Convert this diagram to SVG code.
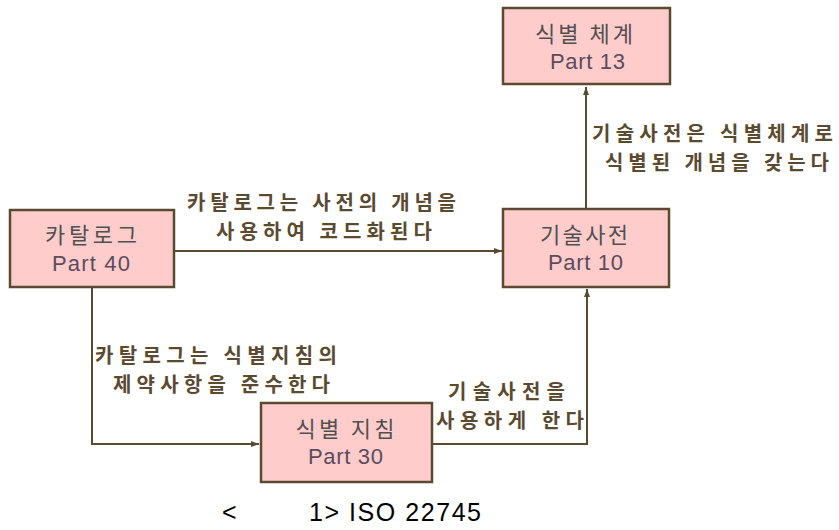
<svg xmlns="http://www.w3.org/2000/svg" width="839" height="530" viewBox="0 0 839 530">
<style>
.box{fill:#ffcccc;stroke:#5a4a30;stroke-width:2.5}
.t{font-family:"Noto Sans CJK KR","Liberation Sans",sans-serif;font-size:22px;fill:#505050;text-anchor:middle}
.p{font-family:"Liberation Sans",Arial,sans-serif;font-size:22px;fill:#5a4c5c;text-anchor:middle}
.lbl{font-family:"Noto Sans CJK KR","Liberation Sans",sans-serif;font-size:20px;font-weight:bold;fill:#5a4a30}
.edge{fill:none;stroke:#5a4a30;stroke-width:2}
.cap{font-family:"Liberation Sans",Arial,sans-serif;font-size:25px;fill:#000}
</style>
<defs>
<marker id="arr" markerUnits="userSpaceOnUse" markerWidth="10" markerHeight="8" refX="8" refY="4" orient="auto">
<path d="M0,1 L8,4 L0,7 z" fill="#5a4a30"/>
</marker>
</defs>
<g id="connectors">
<path class="edge" d="M174,251 H502" marker-end="url(#arr)"/>
<path class="edge" d="M586,209 V87" marker-end="url(#arr)"/>
<path class="edge" d="M92,287 V444 H259" marker-end="url(#arr)"/>
<path class="edge" d="M432,444 H587 V289" marker-end="url(#arr)"/>
<text class="lbl" x="187" y="210" textLength="269">카탈로그는 사전의 개념을</text>
<text class="lbl" x="216" y="239" textLength="216">사용하여 코드화된다</text>
<text class="lbl" x="592" y="140.5" textLength="241">기술사전은 식별체계로</text>
<text class="lbl" x="605" y="169.5" textLength="224">식별된 개념을 갖는다</text>
<text class="lbl" x="95" y="363" textLength="242">카탈로그는 식별지침의</text>
<text class="lbl" x="113" y="392" textLength="217">제약사항을 준수한다</text>
<text class="lbl" x="448" y="398.5" textLength="117">기술사전을</text>
<text class="lbl" x="436" y="427.5" textLength="148">사용하게 한다</text>
</g>
<g id="n-scheme">
<rect class="box" x="503" y="8" width="167" height="76"/>
<text class="t" x="584" y="42" textLength="98">식별 체계</text>
<text class="p" x="587.5" y="69" textLength="75">Part 13</text>
</g>
<g id="n-catalog">
<rect class="box" x="10" y="210" width="164" height="77"/>
<text class="t" x="91" y="243" textLength="92">카탈로그</text>
<text class="p" x="52" y="271" textLength="78" style="text-anchor:start">Part 40</text>
</g>
<g id="n-dict">
<rect class="box" x="503" y="209" width="166" height="78"/>
<text class="t" x="584" y="243" textLength="88">기술사전</text>
<text class="p" x="585.5" y="270" textLength="75">Part 10</text>
</g>
<g id="n-guide">
<rect class="box" x="261" y="403" width="171" height="79"/>
<text class="t" x="345" y="436.5" textLength="99">식별 지침</text>
<text class="p" x="345.5" y="463.5" textLength="75">Part 30</text>
</g>
<text class="cap" y="521"><tspan x="222">&lt;</tspan><tspan x="309" textLength="172">1&gt; ISO 22745</tspan></text>
</svg>
